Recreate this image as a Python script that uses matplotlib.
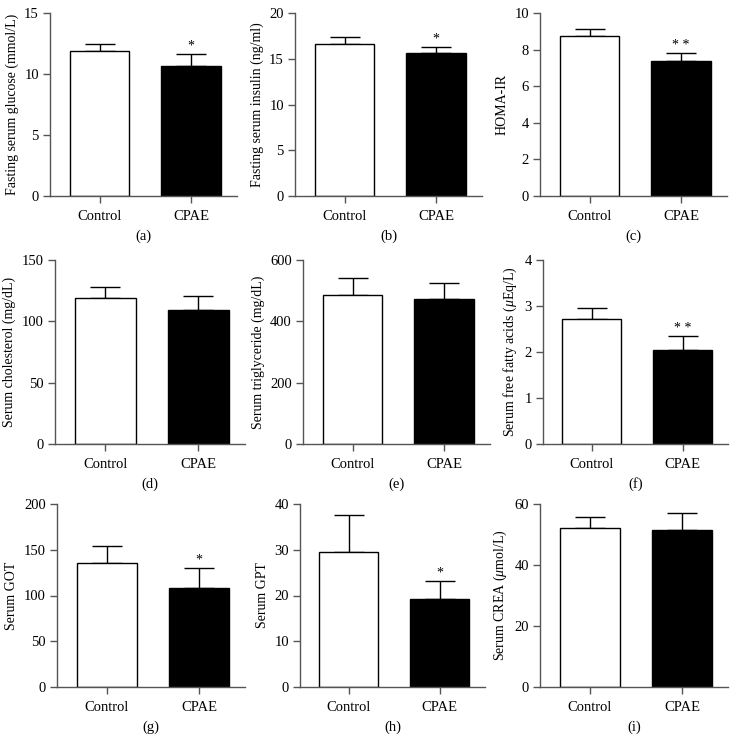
import matplotlib
matplotlib.use("Agg")
import matplotlib.pyplot as plt

plt.rcParams['font.family'] = ['Liberation Serif', 'DejaVu Serif']
plt.rcParams['mathtext.fontset'] = 'custom'
plt.rcParams['mathtext.it'] = 'Liberation Serif:italic'
plt.rcParams['mathtext.rm'] = 'Liberation Serif'

groups = ["Control", "CPAE"]

panel_letters = ["(a)", "(b)", "(c)", "(d)", "(e)", "(f)", "(g)", "(h)", "(i)"]
ylabels = [
    "Fasting serum glucose (mmol/L)",
    "Fasting serum insulin (ng/ml)",
    "HOMA-IR",
    "Serum cholesterol (mg/dL)",
    "Serum triglyceride (mg/dL)",
    r"Serum free fatty acids ($\mu$Eq/L)",
    "Serum GOT",
    "Serum GPT",
    r"Serum CREA ($\mu$mol/L)",
]
means = [
    [11.85, 10.65],
    [16.6, 15.6],
    [8.75, 7.37],
    [119.0, 109.5],
    [486.0, 474.0],
    [2.71, 2.05],
    [135.5, 108.0],
    [29.6, 19.2],
    [52.1, 51.5],
]
errors = [
    [0.65, 1.0],
    [0.8, 0.7],
    [0.38, 0.43],
    [8.8, 11.0],
    [56.0, 51.0],
    [0.24, 0.29],
    [19.0, 22.5],
    [7.9, 3.9],
    [3.7, 5.6],
]
significance = [
    ["", "*"],
    ["", "*"],
    ["", "* *"],
    ["", ""],
    ["", ""],
    ["", "* *"],
    ["", "*"],
    ["", "*"],
    ["", ""],
]
ymax = [15, 20, 10, 150, 600, 4, 200, 40, 60]
ystep = [5, 5, 2, 50, 200, 1, 50, 10, 20]

W, H = 737, 755
# (left, right, top, bottom) in pixels
boxes = [
    (50, 237, 13, 196), (295, 482, 13, 196), (540, 727, 13, 196),
    (55, 245, 260, 444), (303, 490, 260, 444), (543, 728, 260, 444),
    (57, 245, 504, 687), (300, 485, 504, 687), (540, 728, 504, 687),
]

fig = plt.figure(figsize=(W / 100, H / 100), dpi=100)
spine_color = "#555555"

for i in range(9):
    l, r, t, b = boxes[i]
    ax = fig.add_axes([l / W, 1 - b / H, (r - l) / W, (b - t) / H])
    x = [0, 1]
    ax.bar(x, means[i], width=0.65, color=["white", "black"],
           edgecolor="black", linewidth=1.0, zorder=2)
    ax.errorbar(x, means[i], yerr=[[0, 0], errors[i]], fmt="none",
                ecolor="black", elinewidth=1.0, capsize=11, capthick=1.0, zorder=1)
    for j in range(2):
        if significance[i][j]:
            ax.text(x[j], means[i][j] + errors[i][j] + ymax[i] * 0.008,
                    significance[i][j], ha="center", va="bottom", fontsize=10)
    ax.set_xlim(-0.54, 1.5)
    ax.set_ylim(0, ymax[i])
    ax.set_yticks([k * ystep[i] for k in range(int(round(ymax[i] / ystep[i])) + 1)])
    ax.set_xticks(x)
    ax.set_xticklabels(groups)
    ax.set_ylabel(ylabels[i], fontsize=10, labelpad=4)
    ax.spines["top"].set_visible(False)
    ax.spines["right"].set_visible(False)
    for s in ("left", "bottom"):
        ax.spines[s].set_color(spine_color)
        ax.spines[s].set_linewidth(1.0)
    ax.tick_params(axis="both", direction="out", length=5, width=1.0,
                   color=spine_color, labelsize=10.5, pad=3)
    ax.tick_params(axis="x", pad=5)
    ax.text(0.5, -0.22, panel_letters[i], transform=ax.transAxes,
            ha="center", va="center", fontsize=10.5)

fig.savefig("out.png", dpi=100, facecolor="white")
